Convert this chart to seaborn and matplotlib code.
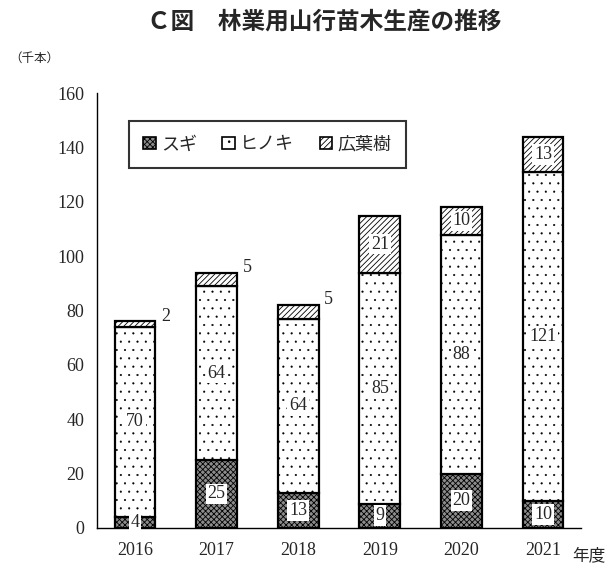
import matplotlib
matplotlib.use("Agg")
import matplotlib.pyplot as plt
import seaborn as sns
import pandas as pd
from matplotlib.patches import Patch

years = ['2016', '2017', '2018', '2019', '2020', '2021']
sugi = [4, 25, 13, 9, 20, 10]
hinoki = [70, 64, 64, 85, 88, 121]
kouyou = [2, 5, 5, 21, 10, 13]
series_names = ['スギ', 'ヒノキ', '広葉樹']

sns.set_style('white')
plt.rcParams['font.family'] = ['Liberation Serif', 'Noto Sans CJK JP']
plt.rcParams['hatch.linewidth'] = 0.6

df = pd.DataFrame({'年度': years, 'スギ': sugi, 'ヒノキ': hinoki, '広葉樹': kouyou})
df['b2'] = df['スギ']
df['b3'] = df['スギ'] + df['ヒノキ']

fig = plt.figure(figsize=(6.12, 5.72), dpi=100)
ax = fig.add_axes([0.158, 0.077, 0.792, 0.76])

styles = [
    dict(facecolor='#8c8c8c', hatch='xxxxxx'),
    dict(facecolor='white', hatch='..'),
    dict(facecolor='white', hatch='//////'),
]
bottoms = [None, 'b2', 'b3']
for name, st, b in zip(series_names, styles, bottoms):
    n0 = len(ax.patches)
    kw = {} if b is None else {'bottom': df[b]}
    sns.barplot(data=df, x='年度', y=name, ax=ax, width=0.5, color='white',
                edgecolor='black', linewidth=1.6, **kw)
    for p in ax.patches[n0:]:
        p.set_facecolor(st['facecolor'])
        p.set_hatch(st['hatch'])
        if name == 'ヒノキ' and hasattr(p, 'set_hatch_linewidth'):
            p.set_hatch_linewidth(0.3)

# value labels
bbox_w = dict(boxstyle='square,pad=0.1', facecolor='white', edgecolor='none')
for i in range(len(years)):
    s, h, k = sugi[i], hinoki[i], kouyou[i]
    ax.text(i, max(s / 2, 2), str(s), ha='center', va='center', fontsize=13, bbox=bbox_w)
    ax.text(i, s + h / 2, str(h), ha='center', va='center', fontsize=13, bbox=bbox_w)
    total = s + h + k
    if k < 8:
        ax.text(i + 0.32, total + 2, str(k), ha='left', va='center', fontsize=13)
    else:
        ax.text(i, s + h + k / 2, str(k), ha='center', va='center', fontsize=13, bbox=bbox_w)

ax.set_ylim(0, 160)
ax.set_xlim(-0.47, 5.47)
ax.set_yticks(range(0, 161, 20))
ax.tick_params(axis='y', direction='in', length=4, labelsize=13, pad=9)
ax.tick_params(axis='x', length=0, labelsize=13, pad=10)
ax.set_xlabel('')
ax.set_ylabel('')
for sp in ['top', 'right']:
    ax.spines[sp].set_visible(False)
for sp in ['left', 'bottom']:
    ax.spines[sp].set_color('black')
    ax.spines[sp].set_linewidth(1.0)

handles = [Patch(facecolor=st['facecolor'], edgecolor='black', hatch=st['hatch'], linewidth=1.2)
           for st in styles]
leg = ax.legend(handles, series_names, loc='upper left', bbox_to_anchor=(0.047, 0.957),
                ncol=3, frameon=True, fancybox=False, edgecolor='black',
                prop={'family': 'Noto Sans CJK JP', 'size': 13},
                handlelength=0.7, handleheight=0.7, handletextpad=0.3,
                columnspacing=1.4, borderpad=0.8)
leg.get_frame().set_linewidth(1.5)

fig.text(0.53, 0.963, 'Ｃ図　林業用山行苗木生産の推移', ha='center', va='center',
         fontsize=17, fontweight='bold', family='Noto Sans CJK JP')
fig.text(0.015, 0.898, '（千本）', ha='left', va='center', fontsize=9, family='Noto Sans CJK JP')
fig.text(0.935, 0.013, '年度', ha='left', va='bottom', fontsize=12, family='Noto Sans CJK JP')

fig.savefig('out.png', dpi=100)
